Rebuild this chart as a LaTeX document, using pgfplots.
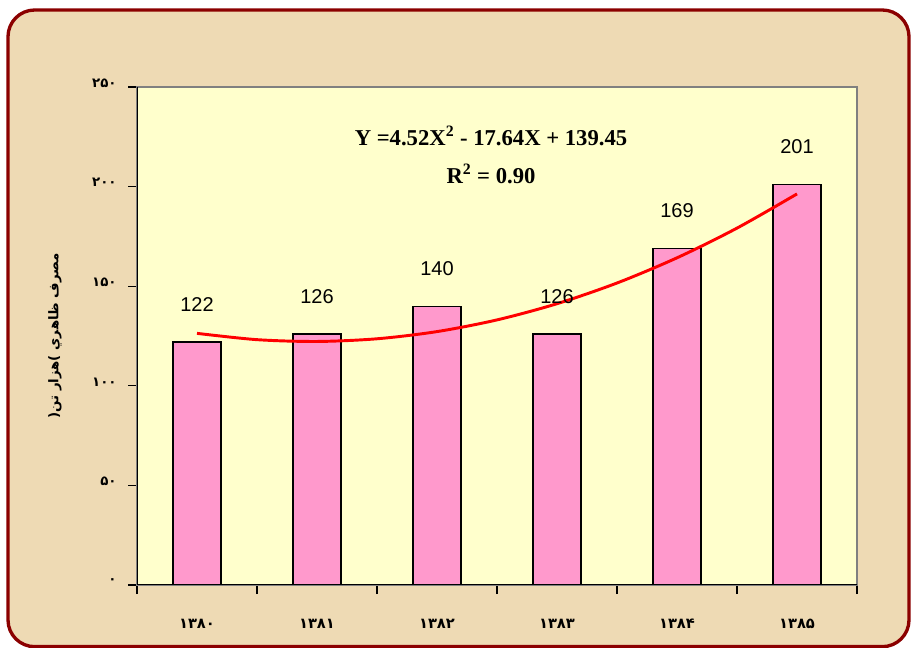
\documentclass[border=0pt]{standalone}
\usepackage{fontspec}
\setmainfont{Liberation Sans}
\newfontfamily\fa[Script=Arabic]{DejaVu Sans}
\newfontfamily\tnr{Liberation Serif}
\TeXXeTstate=1
\usepackage{pgfplots}
\pgfplotsset{compat=1.18}
\definecolor{Parch}{HTML}{EEDAB4}
\definecolor{Frame}{HTML}{8B0000}
\definecolor{PlotBg}{HTML}{FFFFCC}
\definecolor{Pink}{HTML}{FF99CC}
\definecolor{BoxGray}{HTML}{808080}

\begin{document}
\begin{tikzpicture}
\path[use as bounding box] (0,0) rectangle (684pt,486pt);
\fill[white] (0,0) rectangle (684pt,486pt);
\draw[draw=Frame, line width=2.5pt, fill=Parch, rounded corners=20pt] (6pt,1pt) rectangle (681.75pt,478.5pt);
\begin{axis}[
  at={(102.75pt,47.25pt)}, anchor=south west,
  width=540pt, height=373.5pt, scale only axis,
  xmin=0.5, xmax=6.5, ymin=0, ymax=250,
  axis background/.style={fill=PlotBg},
  axis line style={draw=BoxGray, line width=0.9pt},
  tick align=outside, xtick pos=bottom, ytick pos=left,
  tick style={draw=black, line width=0.8pt},
  major tick length=6.75pt, minor tick length=6.75pt,
  xtick={1,...,6},
  xticklabels={۱۳۸۰,۱۳۸۱,۱۳۸۲,۱۳۸۳,۱۳۸۴,۱۳۸۵},
  major x tick style={draw=none},
  minor xtick={0.5,1.5,...,6.5},
  ytick={0,50,...,250},
  yticklabels={۰,۵۰,۱۰۰,۱۵۰,۲۰۰,۲۵۰},
  xticklabel style={font=\fa\bfseries\fontsize{11}{11}\selectfont, yshift=-15pt},
  yticklabel style={font=\fa\bfseries\fontsize{10}{10}\selectfont, xshift=-5pt, yshift=3pt},
  ylabel={\fa\bfseries (\beginR هزار تن\endR) \beginR مصرف ظاهري\endR},
  ylabel style={at={(axis description cs:-0.1139,0.5)}, anchor=center, font=\fontsize{10}{10}\selectfont},
]
\addplot[ybar, bar width=36pt, fill=Pink, draw=black, line width=0.9pt,
  nodes near coords={\pgfmathprintnumber[assume math mode=true]{\pgfplotspointmeta}},
  nodes near coords style={font=\fontsize{15}{15}\selectfont, anchor=south, inner sep=0pt, yshift=22.5pt, text=black}]
  coordinates {(1,122) (2,126) (3,140) (4,126) (5,169) (6,201)};
\addplot[red, line width=2.2pt, smooth, no marks] coordinates {
  (1,126.33) (1.5,123.16) (2,122.25) (2.5,123.60) (3,127.21) (3.5,133.08)
  (4,141.21) (4.5,151.60) (5,164.25) (5.5,179.16) (6,196.33)};
\draw[black, line width=0.9pt] (rel axis cs:0,1) -- (rel axis cs:0,0) -- (rel axis cs:1,0);
\node[font=\tnr\bfseries\fontsize{17}{17}\selectfont, anchor=base] at (axis description cs:0.4917,0.8835) {Y =4.52X\textsuperscript{2} - 17.64X + 139.45};
\node[font=\tnr\bfseries\fontsize{17}{17}\selectfont, anchor=base] at (axis description cs:0.4917,0.8072) {R\textsuperscript{2} = 0.90};
\end{axis}
\end{tikzpicture}
\end{document}
